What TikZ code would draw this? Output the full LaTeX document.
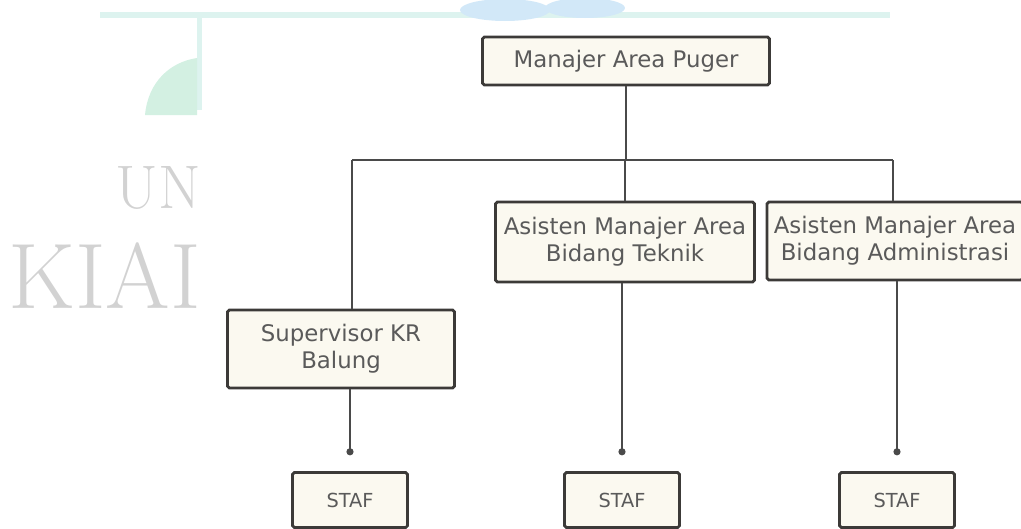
\documentclass[tikz,border=0pt]{standalone}
\usepackage{fontspec}
\setsansfont{DejaVu Sans}
\usetikzlibrary{arrows.meta}
\definecolor{boxfill}{HTML}{FBF9F0}
\definecolor{boxline}{HTML}{3C3A38}
\definecolor{linkgray}{HTML}{4A4A4A}
\definecolor{txtgray}{HTML}{5A5A5A}
\definecolor{markgray}{HTML}{D2D2D2}
\definecolor{palecyan}{HTML}{DDF3EF}
\definecolor{palegreen}{HTML}{D3F0E2}
\definecolor{paleblue}{HTML}{D2E8F8}

\begin{document}
\begin{tikzpicture}[x=0.02cm, y=-0.02cm,
    orgbox/.style={draw=boxline, line width=1.6pt, fill=boxfill, rounded corners=1pt, text=txtgray, align=center, inner sep=0pt, font=\sffamily\fontsize{13}{15.5}\selectfont},
    stafbox/.style={orgbox, minimum width=2.3cm, minimum height=1.1cm, font=\sffamily\fontsize{11}{12}\selectfont},
    link/.style={draw=linkgray, line width=1.2pt},
    down/.style={link, -{Circle[length=4pt]}, shorten >=9pt}]
    \useasboundingbox (0,0) rectangle (1021,528);
            \fill[palecyan] (100,12) rectangle (890,18);
            \fill[palecyan] (197,18) rectangle (202,110);
            \fill[palegreen] (145,115) .. controls (148,82) and (170,62) .. (197,58) -- (197,115) -- cycle;
            \fill[paleblue] (505,10) ellipse (0.9cm and 0.22cm);
            \fill[paleblue] (585,8) ellipse (0.8cm and 0.2cm);
            \node[text=markgray, font=\fontsize{35}{35}\selectfont, anchor=east, inner sep=0pt] (wmun) at (201,188) {UN};
            \node[text=markgray, font=\fontsize{53}{53}\selectfont, anchor=west, inner sep=0pt] (wmkiai) at (8,276) {KIAI};
            \node[orgbox, minimum width=5.74cm, minimum height=0.96cm] (manajer) at (626,61) {Manajer Area Puger};
            \node[orgbox, minimum width=5.18cm, minimum height=1.6cm] (teknik) at (625,242) {Asisten Manajer Area\\Bidang Teknik};
            \node[orgbox, minimum width=5.12cm, minimum height=1.56cm] (admin) at (895,241) {Asisten Manajer Area\\Bidang Administrasi};
            \node[orgbox, minimum width=4.54cm, minimum height=1.56cm] (spv) at (341,349) {Supervisor KR\\Balung};
            \node[stafbox] (staf1) at (350,500) {STAF};
            \node[stafbox] (staf2) at (622,500) {STAF};
            \node[stafbox] (staf3) at (897,500) {STAF};
            \coordinate (busL) at (352,160);
            \coordinate (busR) at (893,160);
            \draw[link] (manajer.south) -- (manajer.south |- busL);
            \draw[link] (busL) -- (busR);
            \draw[link] (busL) -- (busL |- spv.north);
            \draw[link] (teknik.north |- busL) -- (teknik.north);
            \draw[link] (busR) -- (busR |- admin.north);
            \draw[down] (spv.south -| staf1) -- (staf1.north);
            \draw[down] (teknik.south -| staf2) -- (staf2.north);
            \draw[down] (admin.south -| staf3) -- (staf3.north);
        \end{tikzpicture}
\end{document}
